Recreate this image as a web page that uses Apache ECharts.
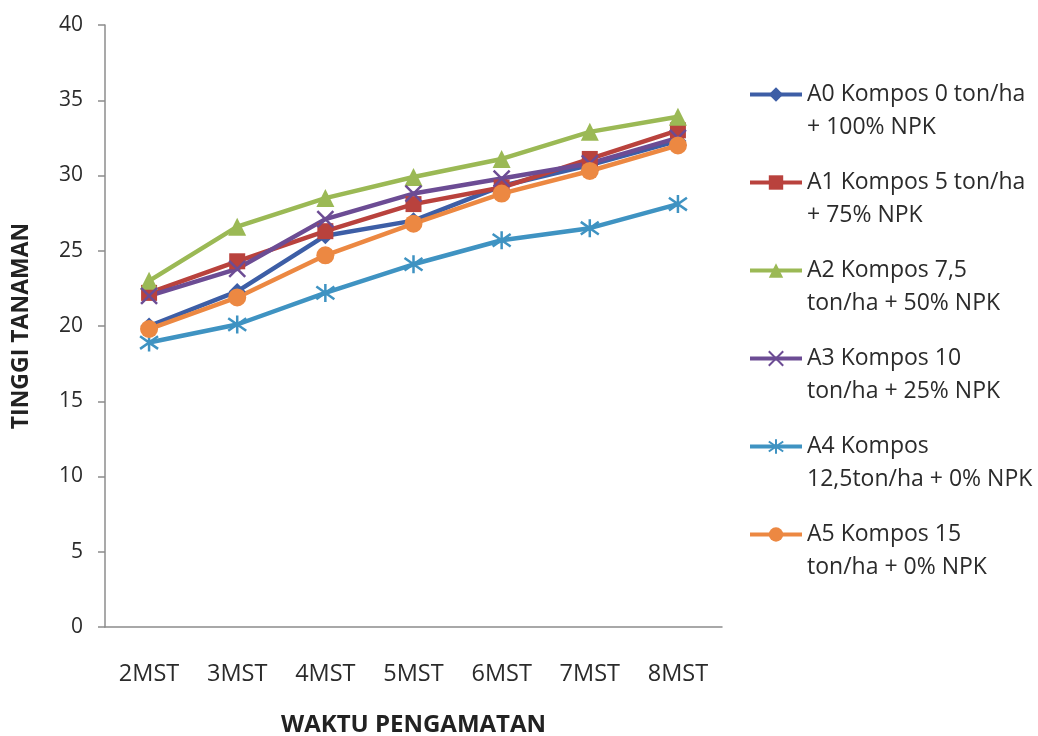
<!DOCTYPE html>
<html>
<head>
<meta charset="utf-8">
<script src="https://cdn.jsdelivr.net/npm/echarts@6/dist/echarts.min.js"></script>
<style>
  html, body { margin: 0; padding: 0; background: #ffffff; }
  #chart { width: 1038px; height: 736px; }
</style>
</head>
<body>
<div id="chart"></div>
<script>
// Plant height per observation week
const categories = ['2MST', '3MST', '4MST', '5MST', '6MST', '7MST', '8MST'];
const yTicks = [0, 5, 10, 15, 20, 25, 30, 35, 40];

const seriesNames = [
  'A0 Kompos 0 ton/ha\n+ 100% NPK',
  'A1 Kompos 5 ton/ha\n+ 75% NPK',
  'A2 Kompos 7,5\nton/ha + 50% NPK',
  'A3 Kompos 10\nton/ha + 25% NPK',
  'A4 Kompos\n12,5ton/ha + 0% NPK',
  'A5 Kompos 15\nton/ha + 0% NPK'
];

const a0 = [20.0, 22.3, 26.0, 27.0, 29.3, 30.7, 32.3];
const a1 = [22.2, 24.3, 26.3, 28.1, 29.2, 31.1, 33.0];
const a2 = [23.0, 26.6, 28.5, 29.9, 31.1, 32.9, 33.9];
const a3 = [22.0, 23.8, 27.1, 28.8, 29.8, 30.8, 32.5];
const a4 = [18.9, 20.1, 22.2, 24.1, 25.7, 26.5, 28.1];
const a5 = [19.8, 21.9, 24.7, 26.8, 28.8, 30.3, 32.0];

const colors = ['#3d5ea6', '#b9423d', '#9bb955', '#6c4c94', '#3f93c2', '#ec8842'];
const FONT = '"Open Sans", "DejaVu Sans", sans-serif';
const TEXT = '#2b2b2b';

const crossPath = 'path://M2 2 L18 18 M18 2 L2 18';
const starPath = 'path://M10 0 L10 20 M3 3 L17 17 M17 3 L3 17';

function lineSeries(name, data, color, symbol, size, stroked) {
  return {
    name: name,
    type: 'line',
    data: data,
    symbol: symbol,
    symbolSize: size,
    showAllSymbol: true,
    lineStyle: { color: color, width: 4.5 },
    itemStyle: stroked
      ? { color: color, borderColor: color, borderWidth: 2.5 }
      : { color: color, borderWidth: 0 },
    emphasis: { disabled: true },
    z: 2
  };
}

const chart = echarts.init(document.getElementById('chart'), null, { renderer: 'canvas' });
chart.setOption({
  animation: false,
  backgroundColor: '#ffffff',
  color: colors,
  grid: { left: 105, right: 316, top: 25, bottom: 109, containLabel: false, outerBoundsMode: 'none' },
  legend: {
    orient: 'vertical',
    left: 748,
    top: 45,
    padding: 0,
    itemWidth: 52,
    itemHeight: 18,
    itemGap: -11,
    lineStyle: { width: 4 },
    // a blank leading line keeps the marker level with the first text line
    formatter: function (name) { return ' \n' + name; },
    textStyle: { fontFamily: FONT, fontSize: 23, color: TEXT, lineHeight: 33 },
    data: seriesNames
  },
  xAxis: {
    type: 'category',
    data: categories,
    boundaryGap: true,
    name: 'WAKTU PENGAMATAN',
    nameLocation: 'middle',
    nameGap: 86,
    nameTextStyle: { fontFamily: FONT, fontSize: 24, fontWeight: 'bold', color: '#222222' },
    axisLine: { lineStyle: { color: '#8c8c8c', width: 1.5 } },
    axisTick: { show: false },
    axisLabel: { fontFamily: FONT, fontSize: 23.5, color: TEXT, margin: 35 },
    splitLine: { show: false }
  },
  yAxis: {
    type: 'value',
    min: 0,
    max: 40,
    interval: 5,
    name: 'TINGGI TANAMAN',
    nameLocation: 'middle',
    nameGap: 72,
    nameTextStyle: { fontFamily: FONT, fontSize: 23, fontWeight: 'bold', color: '#222222' },
    axisLine: { show: true, lineStyle: { color: '#8c8c8c', width: 1.5 } },
    axisTick: { show: true, length: 7, lineStyle: { color: '#8c8c8c', width: 1.5 } },
    axisLabel: {
      fontFamily: FONT, fontSize: 21, color: TEXT, margin: 22,
      formatter: function (v) { return yTicks.indexOf(v) >= 0 ? String(v) : ''; }
    },
    splitLine: { show: false }
  },
  series: [
    lineSeries(seriesNames[0], a0, colors[0], 'diamond', 17, false),
    lineSeries(seriesNames[1], a1, colors[1], 'rect', 16, false),
    lineSeries(seriesNames[2], a2, colors[2], 'triangle', 18, false),
    lineSeries(seriesNames[3], a3, colors[3], crossPath, 16, true),
    lineSeries(seriesNames[4], a4, colors[4], starPath, 18, true),
    lineSeries(seriesNames[5], a5, colors[5], 'circle', 18, false)
  ]
});
</script>
</body>
</html>
